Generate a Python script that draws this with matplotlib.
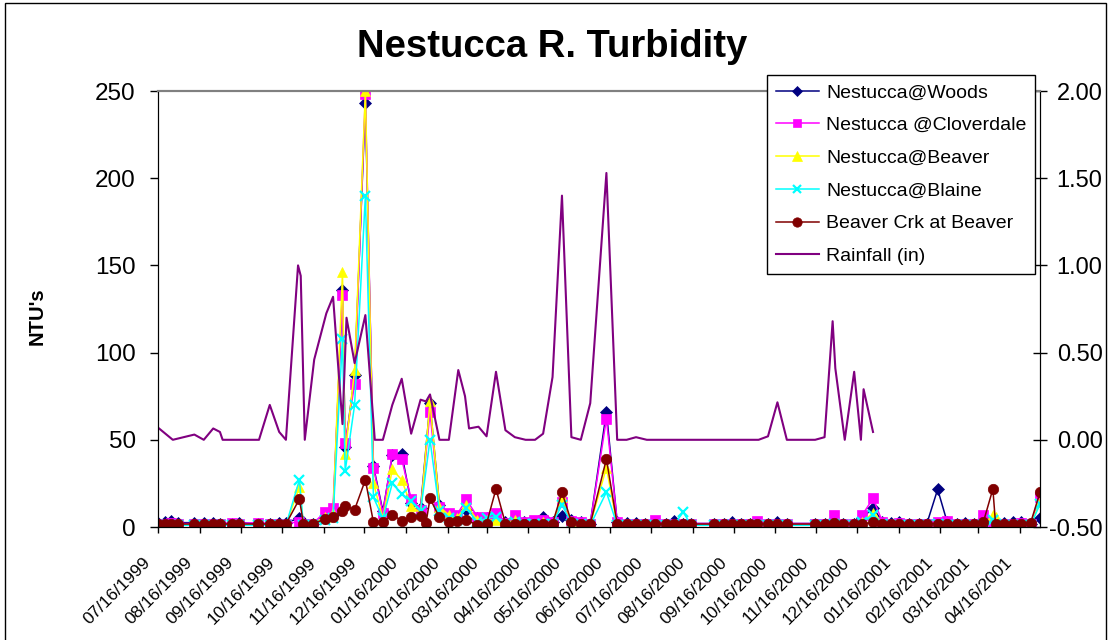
import numpy as np
import pandas as pd
import matplotlib
matplotlib.use("Agg")
import matplotlib.pyplot as plt
import matplotlib.dates as mdates
import matplotlib.transforms as mtrans
from matplotlib.patches import Rectangle

plt.rcParams["font.family"] = ["Liberation Sans", "DejaVu Sans"]

nan = np.nan

# sampling dates for the turbidity sites
sample_dates = [
    "1999-07-16", "1999-07-21", "1999-07-26", "1999-07-31", "1999-08-12", "1999-08-19",
    "1999-08-26", "1999-08-31", "1999-09-09", "1999-09-14", "1999-09-28", "1999-10-07",
    "1999-10-14", "1999-10-19", "1999-10-29", "1999-11-01", "1999-11-08", "1999-11-17",
    "1999-11-23", "1999-11-30", "1999-12-02", "1999-12-09", "1999-12-17", "1999-12-23",
    "1999-12-30", "2000-01-06", "2000-01-13", "2000-01-20", "2000-01-27", "2000-01-31",
    "2000-02-03", "2000-02-10", "2000-02-17", "2000-02-23", "2000-03-01", "2000-03-09",
    "2000-03-16", "2000-03-23", "2000-03-30", "2000-04-06", "2000-04-13", "2000-04-20",
    "2000-04-27", "2000-05-04", "2000-05-11", "2000-05-18", "2000-05-25", "2000-06-01",
    "2000-06-13", "2000-06-21", "2000-06-28", "2000-07-05", "2000-07-12", "2000-07-19",
    "2000-07-27", "2000-08-02", "2000-08-09", "2000-08-15", "2000-09-01", "2000-09-08",
    "2000-09-14", "2000-09-21", "2000-09-28", "2000-10-03", "2000-10-11", "2000-10-18",
    "2000-10-25", "2000-11-15", "2000-11-22", "2000-11-29", "2000-12-06", "2000-12-14",
    "2000-12-20", "2000-12-28", "2001-01-04", "2001-01-10", "2001-01-16", "2001-01-24",
    "2001-01-31", "2001-02-06", "2001-02-14", "2001-02-21", "2001-02-28", "2001-03-06",
    "2001-03-13", "2001-03-20", "2001-03-27", "2001-03-29", "2001-04-04", "2001-04-11",
    "2001-04-17", "2001-04-24", "2001-05-01",
]

woods = [
    2.5, 3, 3.5, 2.5, 2.5, 2.5, 2.5, 2, 2, 2.5, 2, 2, 2.5, 2.5, 5, 3, 2, 5,
    7, 136, 46, 87, 243, 35, 9, 41, 42, 14, 11, nan, 71, 12.7, 7, 6, 10, 5,
    5, 5, 3, 5, 3, 3, 6, 3, 6.3, 4, 3, 2, 66, 3, 2.5, 2.5, 2, 2,
    2, 3.5, 2, 2, 2, 2, 3, 2, 2, 2, 2, 3, 2, 2, 2, 2, 2, 2,
    5, 11.1, 3, 2.5, 3, 2, 2, 2, 21.6, 3, 2, 2.5, 2, 2, 3, 2, 2.5, 3,
    3, 2, 5,
]
cloverdale = [
    2, 2, 2.5, 2, 2, 2, 2, 2, 2.5, 2, 2.5, 2, 2, 2, 3, 2, 2, 8.5,
    11, 133, 48, 82, 248, 34, 8, 42, 39, 16, 10, nan, 66, 11.6, 8.2, 7, 15.9, 6,
    6, 7.8, 2.5, 6.9, 3, 4, 4, 3, 14.5, 3.5, 3, 2, 62, 3, 2, 2, 2, 4,
    2, 2, 2, 2, 2, 2, 2, 2, 2, 3.5, 2, 2, 2, 2, 2, 6.9, 2, 2,
    6.9, 16.4, 3, 2, 2.5, 2, 2, 2, 3, 3.5, 2, 2, 2, 7, 3, 2, 2, 2,
    2.5, 2, 17.4,
]
beaver = [
    1.5, 1.5, 1.5, 1.5, 1, 1, 1, 1, 1, 1, 1, 1, 1, 1, 23, 1.5, 1.5, 6,
    8, 146, 42, 90, 250, 25, 5, 33, 27, 12, 8, nan, 72, 11.6, 6.9, 5, 12.6, 4,
    4, 4, 2, 4, 2, 2, 3, 2, 17.2, 3, 2, 1.5, 34, 1, 1, 1, 1, 1,
    1, 1, 1, 1, 1, 1, 1, 1, 1, 1, 1, 1, 1, 1, 1, 2, 1, 1,
    3, 8, 2, 1, 1, 1, 1, 1, 2, 1.5, 1, 1, 1, 1, 7, 6, 1, 1,
    1, 1, 14.5,
]
blaine = [
    1, 1, 1, 1, 1, 1, 1, 1, 1, 1, 1, 1, 1, 1, 27, 1, 1, 4,
    5, 108, 32, 70, 190, 17, 5, 25, 19, 15, 9, nan, 50, 9, 5, 4, 10.7, 3,
    5, 6, 2, 3, 2, 2, 2, 2, 12.6, 2, 2, 1, 20, 1, 1, 1, 1, 1,
    1, 1, 8.5, 1, 1, 1, 1, 1, 1, 1, 1, 1, 1, 1, 1, 2, 1, 1,
    3, 6.9, 2, 1, 1, 1, 1, 1, 2, 1, 1, 1, 1, 1, 4, 2, 1, 1,
    1, 1, 13,
]
beaver_crk = [
    1.7, 2, 2, 1.7, 1.7, 1.7, 1.7, 1.7, 1.7, 1.7, 1.7, 1.7, 1.7, 1.7, 16, 2, 2, 4.4,
    6, 9, 12, 10, 27, 2.7, 2.7, 7, 3.6, 6, 6.3, 2.1, 16.4, 5.5, 2.7, 3.6, 4, 1.1,
    2, 21.8, 2, 2, 2, 2, 2, 2, 19.9, 3, 2, 1.7, 39, 1.7, 1.7, 1.7, 1.7, 1.7,
    1.7, 1.7, 1.7, 1.7, 1.7, 1.7, 1.7, 1.7, 1.7, 1.7, 1.7, 1.7, 1.7, 1.7, 1.7, 2.5, 1.7, 1.7,
    1.7, 2.7, 1.7, 1.7, 1.7, 1.7, 1.7, 1.7, 2, 1.7, 1.7, 1.7, 1.7, 3, 21.8, 1.7, 1.7, 1.7,
    1.7, 2.3, 19.9,
]

# weekly rainfall (in), secondary axis
rain_dates = [
    "1999-07-16", "1999-07-27", "1999-08-12", "1999-08-19", "1999-08-26", "1999-08-31",
    "1999-09-02", "1999-09-09", "1999-09-16", "1999-09-23", "1999-09-29", "1999-10-07",
    "1999-10-14", "1999-10-19", "1999-10-28", "1999-10-30", "1999-11-02", "1999-11-09",
    "1999-11-18", "1999-11-23", "1999-11-30", "1999-12-03", "1999-12-09", "1999-12-17",
    "1999-12-24", "1999-12-30", "2000-01-06", "2000-01-13", "2000-01-20", "2000-01-27",
    "2000-01-31", "2000-02-03", "2000-02-10", "2000-02-17", "2000-02-24", "2000-02-29",
    "2000-03-03", "2000-03-10", "2000-03-16", "2000-03-23", "2000-03-30", "2000-04-06",
    "2000-04-14", "2000-04-21", "2000-04-27", "2000-05-04", "2000-05-11", "2000-05-18",
    "2000-05-25", "2000-06-01", "2000-06-13", "2000-06-21", "2000-06-28", "2000-07-05",
    "2000-07-13", "2000-07-27", "2000-08-10", "2000-08-24", "2000-09-07", "2000-09-21",
    "2000-10-04", "2000-10-11", "2000-10-18", "2000-10-25", "2000-11-01", "2000-11-08",
    "2000-11-15", "2000-11-22", "2000-11-28", "2000-11-30", "2000-12-07", "2000-12-14",
    "2000-12-19", "2000-12-21", "2000-12-28",
]
rainfall = [
    0.07, 0.0, 0.03, 0.0, 0.065, 0.045,
    0.0, 0.0, 0.0, 0.0, 0.0, 0.2,
    0.045, 0.0, 1.0, 0.94, 0.0, 0.46,
    0.725, 0.82, 0.09, 0.70, 0.44, 0.715,
    0.0, 0.0, 0.2, 0.35, 0.035, 0.23,
    0.22, 0.26, 0.0, 0.0, 0.40, 0.25,
    0.065, 0.075, 0.02, 0.39, 0.055, 0.015,
    0.0, 0.0, 0.035, 0.36, 1.40, 0.015,
    0.0, 0.21, 1.53, 0.0, 0.0, 0.015,
    0.0, 0.0, 0.0, 0.0, 0.0, 0.0,
    0.0, 0.02, 0.215, 0.0, 0.0, 0.0,
    0.0, 0.015, 0.68, 0.41, 0.0, 0.39,
    0.0, 0.29, 0.045,
]

series = [
    ("Nestucca@Woods", woods, "#000080", "D", 6),
    ("Nestucca @Cloverdale", cloverdale, "#FF00FF", "s", 6.5),
    ("Nestucca@Beaver", beaver, "#FFFF00", "^", 7.5),
    ("Nestucca@Blaine", blaine, "#00FFFF", "x", 7),
    ("Beaver Crk at Beaver", beaver_crk, "#800000", "o", 7.5),
]

df = pd.DataFrame({name: vals for name, vals, *_ in series}, index=pd.to_datetime(sample_dates))
rain = pd.Series(rainfall, index=pd.to_datetime(rain_dates))

fig = plt.figure(figsize=(11.12, 6.4), dpi=100)
ax = fig.add_axes([158 / 1112, 1 - 527 / 640, 882 / 1112, 436 / 640])
ax2 = ax.twinx()

handles = []
for name, vals, color, marker, ms in series:
    s = df[name].dropna()
    (h,) = ax.plot(s.index, s.values, color=color, lw=1.1, marker=marker,
                   markersize=ms, markerfacecolor=color, markeredgecolor=color,
                   markeredgewidth=1.6 if marker == "x" else 0.5, label=name)
    handles.append(h)

(hr,) = ax2.plot(rain.index, rain.values, color="#800080", lw=1.5, label="Rainfall (in)")
handles.append(hr)

ax.set_xlim(pd.Timestamp("1999-07-16"), pd.Timestamp("2001-05-01"))
ax.set_ylim(0, 250)
ax.set_yticks([0, 50, 100, 150, 200, 250])
ax2.set_ylim(-0.5, 2.0)
ax2.set_yticks([-0.5, 0, 0.5, 1.0, 1.5, 2.0])
ax2.set_yticklabels([f"{v:.2f}" for v in [-0.5, 0, 0.5, 1.0, 1.5, 2.0]])

ax.xaxis.set_major_locator(mdates.MonthLocator(bymonthday=16))
ax.xaxis.set_major_formatter(mdates.DateFormatter("%m/%d/%Y"))
ax.tick_params(axis="x", length=4, direction="out", width=1, pad=20)
shift = mtrans.ScaledTranslation(-10 / 100, 0, fig.dpi_scale_trans)
for lbl in ax.get_xticklabels():
    lbl.set_rotation(45)
    lbl.set_ha("right")
    lbl.set_va("center")
    lbl.set_rotation_mode("anchor")
    lbl.set_fontsize(12.5)
    lbl.set_transform(lbl.get_transform() + shift)

ax.tick_params(axis="y", labelsize=17.5, length=6, direction="out", width=1, pad=10)
ax2.tick_params(axis="y", labelsize=17, length=10, direction="inout", width=1, pad=40)
for lbl in ax2.get_yticklabels():
    lbl.set_ha("right")

for sp in ["left", "bottom"]:
    ax.spines[sp].set_color("black")
ax2.spines["right"].set_color("black")
ax.spines["top"].set_color("#808080")
ax2.spines["top"].set_color("#808080")
ax.spines["top"].set_linewidth(1.5)
ax2.spines["top"].set_linewidth(1.5)

fig.text(552 / 1112, 1 - 47 / 640, "Nestucca R. Turbidity", ha="center", va="center",
         fontsize=27.5, fontweight="bold")
fig.text(37 / 1112, 1 - 316 / 640, "NTU's", ha="center", va="center", rotation=90,
         fontsize=14.5, fontweight="bold")

leg = ax2.legend(handles=handles, loc="upper left", bbox_to_anchor=(767 / 1112, 1 - 75 / 640),
                 bbox_transform=fig.transFigure, borderaxespad=0, fontsize=14,
                 frameon=True, fancybox=False, framealpha=1, edgecolor="black",
                 handlelength=2.2, labelspacing=0.78, borderpad=0.45, handletextpad=0.4,
                 markerscale=0.9)
leg.get_frame().set_linewidth(1)

fig.patches.append(Rectangle((5 / 1112, -0.01), 1101 / 1112, 1.0 - 3 / 640 + 0.01,
                             transform=fig.transFigure, fill=False, edgecolor="black", lw=1))

fig.savefig("out.png", dpi=100)
